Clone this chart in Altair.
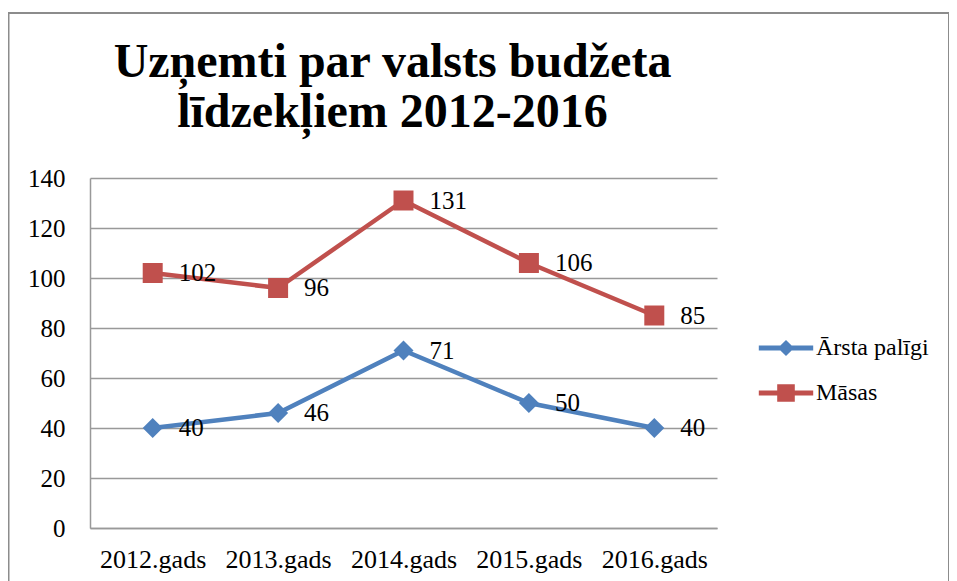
import altair as alt
import pandas as pd

# ---- data ----
years = ["2012.gads", "2013.gads", "2014.gads", "2015.gads", "2016.gads"]
series_names = ["Ārsta palīgi", "Māsas"]
arsta_paligi = [40, 46, 71, 50, 40]
masas = [102, 96, 131, 106, 85]
title_lines = ["Uzņemti par valsts budžeta", "līdzekļiem 2012-2016"]
y_ticks = [0, 20, 40, 60, 80, 100, 120, 140]

colors = ["#4F81BD", "#C0504D"]

rows = []
for name, vals in zip(series_names, [arsta_paligi, masas]):
    for yr, v in zip(years, vals):
        rows.append({"gads": yr, "series": name, "v": v})
df = pd.DataFrame(rows)

FONT = "'Times New Roman', 'Liberation Serif', Tinos, 'DejaVu Serif', serif"
GRID = "#999999"
W, H = 627, 350
PL, PT = 82, 170
PR = 941 - PL - W
PB = 53

x = alt.X(
    "gads:N",
    sort=years,
    scale=alt.Scale(domain=years),
    axis=alt.Axis(
        title=None, labelAngle=0, ticks=False, labelPadding=18,
        labelFont=FONT, labelFontSize=26, labelColor="black",
        domainColor=GRID, domainWidth=1.5, grid=False,
    ),
)
y = alt.Y(
    "v:Q",
    scale=alt.Scale(domain=[0, 140], nice=False),
    axis=alt.Axis(
        title=None, values=y_ticks, ticks=False, labelPadding=25,
        labelFont=FONT, labelFontSize=25, labelColor="black",
        domainColor=GRID, domainWidth=1.5,
        grid=True, gridColor=GRID, gridWidth=1.5,
    ),
)

border = alt.Chart(alt.Data(values=[{"a": 1}])).mark_rect(
    fillOpacity=0, stroke="#8C8C8C", strokeWidth=2
).encode(
    x=alt.value(-81.5), x2=alt.value(859), y=alt.value(-165), y2=alt.value(440)
)

shapes = ["diamond", "square"]
series_layers = []
for name, col, shp in zip(series_names, colors, shapes):
    base = alt.Chart(df).transform_filter(alt.datum.series == name)
    series_layers.append(base.mark_line(strokeWidth=4.5, color=col).encode(x=x, y=y))
for name, col, shp in zip(series_names, colors, shapes):
    base = alt.Chart(df).transform_filter(alt.datum.series == name)
    series_layers.append(
        base.mark_point(shape=shp, filled=True, size=400, opacity=1, color=col).encode(x=x, y=y)
    )

labels = alt.Chart(df).mark_text(
    align="left", baseline="middle", dx=26, font=FONT, fontSize=25, color="black"
).encode(x=x, y=y, text="v:Q")

diamond_path = "M-3.4,-0.3H-0.7L0,-1L0.7,-0.3H3.4V0.3H0.7L0,1L-0.7,0.3H-3.4Z"
square_path = "M-3.4,-0.3H-1.1V-1.1H1.1V-0.3H3.4V0.3H1.1V1.1H-1.1V0.3H-3.4Z"

leg = alt.Legend(
    title=None, orient="none", legendX=684, legendY=158, padding=0,
    labelFont=FONT, labelFontSize=24, labelColor="black",
    symbolSize=256, symbolStrokeWidth=0,
    rowPadding=21, labelOffset=18,
)

# legend-only layer (no rows survive the filter, so it draws no marks)
legend_layer = alt.Chart(df).transform_filter("datum.v < 0").mark_point(
    filled=True, opacity=1, size=256
).encode(
    x=x, y=y,
    fill=alt.Fill("series:N", scale=alt.Scale(domain=series_names, range=colors), legend=leg),
    shape=alt.Shape("series:N", scale=alt.Scale(domain=series_names, range=[diamond_path, square_path]), legend=leg),
)

chart = alt.layer(border, *series_layers, labels, legend_layer).properties(
    width=W,
    height=H,
    autosize=alt.AutoSizeParams(type="none"),
    padding={"left": PL, "top": PT, "right": PR, "bottom": PB},
    background="white",
    title=alt.TitleParams(
        text=title_lines, font=FONT, fontSize=48, fontWeight="bold", color="black",
        lineHeight=50, anchor="middle", frame="group", dx=-11, offset=-125,
    ),
).configure_view(stroke=None)

chart.save("out.html", embed_options={"renderer": "svg", "actions": False})
